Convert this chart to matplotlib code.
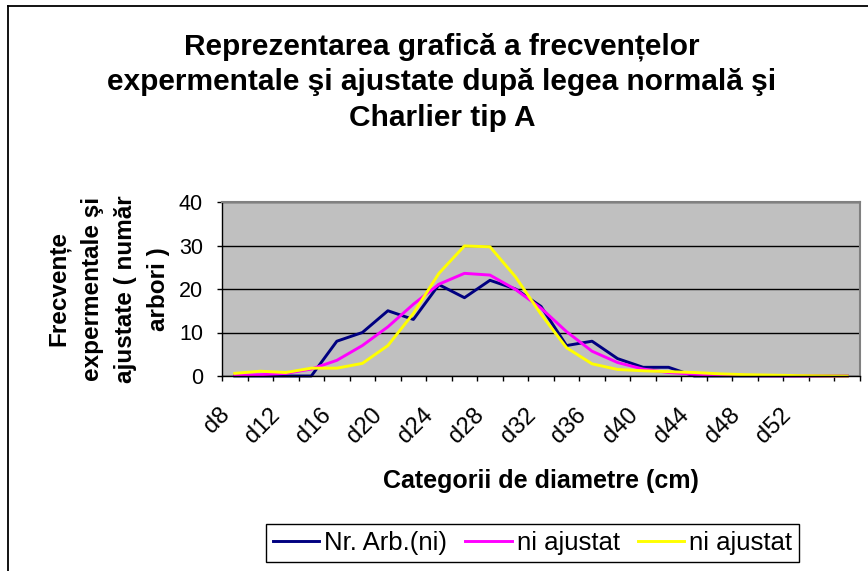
import numpy as np
import matplotlib
matplotlib.use("Agg")
import matplotlib.pyplot as plt
from matplotlib.lines import Line2D
from matplotlib.transforms import ScaledTranslation

plt.rcParams['font.family'] = ['Liberation Sans', 'DejaVu Sans']

# diameter classes d8 ... d56 (step 2 cm)
categories = ['d%d' % d for d in range(8, 57, 2)]
shown_labels = categories[0:23:2]   # d8, d12, ... d52

nr_arb = [0, 0, 0, 0, 8, 10, 15, 13, 21, 18, 22, 20, 16, 7, 8, 4, 2, 2,
          0, 0, 0, 0, 0, 0, 0]
ni_normal = [0.2, 0.3, 0.6, 1.6, 3.6, 7.0, 11.3, 16.5, 21.1, 23.6, 23.2, 19.9,
             15.6, 10.2, 5.7, 3.1, 1.6, 0.8, 0.4, 0.2, 0.1, 0.05, 0.02, 0.01, 0.0]
ni_charlier = [0.6, 1.1, 0.8, 1.8, 1.8, 2.9, 7.0, 14.4, 23.6, 29.9, 29.7, 22.8,
               14.2, 6.5, 2.8, 1.5, 1.2, 1.0, 0.8, 0.5, 0.3, 0.2, 0.1, 0.05, 0.0]

W, H = 868, 571
fig = plt.figure(figsize=(W / 100, H / 100), dpi=100)
fig.patch.set_facecolor('white')

# plot area
ax = fig.add_axes([222 / W, 1 - 376 / H, (860 - 222) / W, (376 - 202) / H])
ax.set_facecolor('#C0C0C0')

x = np.arange(len(categories))
ax.plot(x, nr_arb, color='#000080', lw=2.1, clip_on=False, label='Nr. Arb.(ni)')
ax.plot(x, ni_normal, color='#FF00FF', lw=2.1, clip_on=False, label='ni ajustat')
ax.plot(x, ni_charlier, color='#FFFF00', lw=2.1, clip_on=False, label='ni ajustat')

ax.set_xlim(-0.5, len(categories) - 0.5)
ax.set_ylim(0, 40)
ax.set_yticks([0, 10, 20, 30, 40])
ax.yaxis.grid(True, color='black', lw=1.0)
ax.set_axisbelow(True)

# category boundary ticks, labels on every other category
ax.set_xticks(np.arange(-0.5, len(categories), 1.0))
ax.set_xticklabels([])
ax.set_xticks(x[0:23:2], minor=True)
ax.set_xticklabels(shown_labels, minor=True, rotation=45, ha='right', va='top',
                   fontsize=17)
ax.tick_params(axis='x', which='major', direction='out', length=3.6, width=1, color='black')
ax.tick_params(axis='x', which='minor', length=0, pad=20)
ax.tick_params(axis='y', direction='out', length=3.6, width=1, pad=10, labelsize=15.5)
shift = ScaledTranslation(-1 / 100, 0, fig.dpi_scale_trans)
for lbl in ax.get_xticklabels(minor=True):
    lbl.set_transform(lbl.get_transform() + shift)

for s in ['left', 'bottom']:
    ax.spines[s].set_color('black')
    ax.spines[s].set_linewidth(1.0)
for s in ['top', 'right']:
    ax.spines[s].set_color('#808080')
    ax.spines[s].set_linewidth(1.5)

# texts
fig.text(442 / W, 1 - 82 / H,
         'Reprezentarea grafică a frecvențelor\n'
         'expermentale şi ajustate după legea normală şi\n'
         'Charlier tip A',
         ha='center', va='center', fontsize=21.5, fontweight='bold', linespacing=1.33)
fig.text(109 / W, 1 - 289 / H,
         'Frecvențe\nexpermentale şi\najustate ( număr\narbori )',
         rotation=90, ha='center', va='center', multialignment='center',
         fontsize=17.5, fontweight='bold', linespacing=1.57)
fig.text(541 / W, 1 - 481 / H, 'Categorii de diametre (cm)',
         ha='center', va='center', fontsize=18, fontweight='bold')

leg = fig.legend(loc='center', bbox_to_anchor=(532.5 / W, 1 - 543 / H), ncol=3,
                 frameon=True, fancybox=False, edgecolor='black', framealpha=1,
                 fontsize=18.5, handlelength=1.8, handletextpad=0.2,
                 columnspacing=0.7, borderpad=0.28, borderaxespad=0)
leg.get_frame().set_linewidth(1.0)

# chart area border (only left and top edges visible)
fig.add_artist(Line2D([8 / W, 8 / W], [0, 1 - 6 / H], transform=fig.transFigure,
                      color='black', lw=1.3))
fig.add_artist(Line2D([8 / W, 1], [1 - 6 / H, 1 - 6 / H], transform=fig.transFigure,
                      color='black', lw=1.3))

fig.savefig('out.png', dpi=100)
